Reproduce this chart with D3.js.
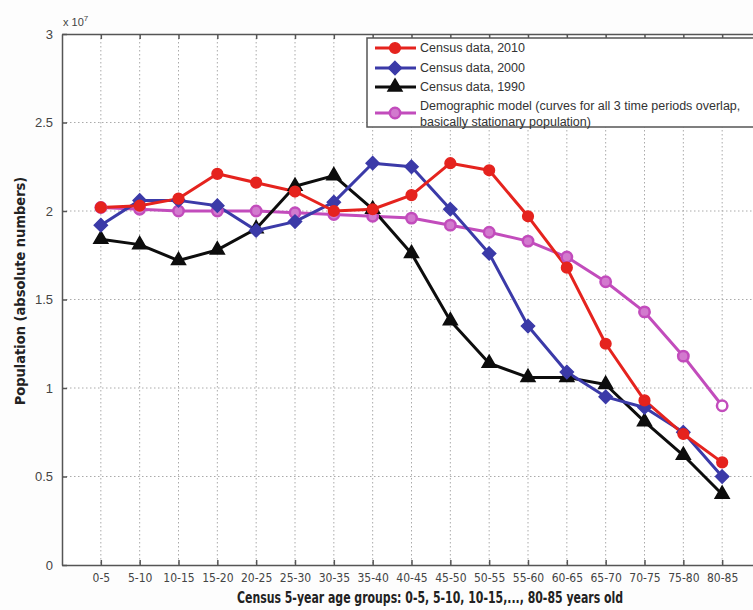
<!DOCTYPE html>
<html>
<head>
<meta charset="utf-8">
<script src="https://cdn.jsdelivr.net/npm/d3@7"></script>
<style>
  html, body { margin: 0; padding: 0; background: #fdfdfd; }
  svg { display: block; }
</style>
</head>
<body>
<svg id="chart" width="753" height="610"></svg>
<script>
const categories = ["0-5","5-10","10-15","15-20","20-25","25-30","30-35","35-40","40-45","45-50","50-55","55-60","60-65","65-70","70-75","75-80","80-85"];
const census2010 = [2.02,2.03,2.07,2.21,2.16,2.11,2.00,2.01,2.09,2.27,2.23,1.97,1.68,1.25,0.93,0.74,0.58].map(v => v * 1e7);
const census2000 = [1.92,2.06,2.06,2.03,1.89,1.94,2.05,2.27,2.25,2.01,1.76,1.35,1.09,0.95,0.89,0.75,0.50].map(v => v * 1e7);
const census1990 = [1.84,1.81,1.72,1.78,1.90,2.14,2.20,2.01,1.76,1.38,1.14,1.06,1.06,1.02,0.81,0.62,0.40].map(v => v * 1e7);
const model = [2.02,2.01,2.00,2.00,2.00,1.99,1.98,1.97,1.96,1.92,1.88,1.83,1.74,1.60,1.43,1.18,0.90].map(v => v * 1e7);
const yTicks = [0, 0.5, 1, 1.5, 2, 2.5, 3];
const yTickLabels = ["0","0.5","1","1.5","2","2.5","3"];
const legendLabels = ["Census data, 2010","Census data, 2000","Census data, 1990",
  ["Demographic model (curves for all 3 time periods overlap,","basically stationary population)"]];

const svg = d3.select("#chart");
const pLeft = 62, pRight = 761, pTop = 34, pBottom = 565;

const x = d3.scaleLinear().domain([-1, 17]).range([pLeft, pRight]);
const y = d3.scaleLinear().domain([0, 3e7]).range([pBottom, pTop]);

const axisColor = "#555";
const gridColor = "#aaa";

// plot background
svg.append("rect").attr("x", pLeft).attr("y", pTop).attr("width", pRight - pLeft).attr("height", pBottom - pTop).attr("fill", "#ffffff");

// grid
const g = svg.append("g");
g.selectAll(".vg").data(categories).enter().append("line")
  .attr("x1", (d, i) => x(i)).attr("x2", (d, i) => x(i))
  .attr("y1", pTop).attr("y2", pBottom)
  .attr("stroke", gridColor).attr("stroke-width", 1).attr("stroke-dasharray", "1.5,2.5");
g.selectAll(".hg").data(yTicks.slice(1, -1)).enter().append("line")
  .attr("x1", pLeft).attr("x2", pRight)
  .attr("y1", d => y(d * 1e7)).attr("y2", d => y(d * 1e7))
  .attr("stroke", gridColor).attr("stroke-width", 1).attr("stroke-dasharray", "1.5,2.5");

// axes
const xAxis = d3.axisBottom(x).tickValues(d3.range(categories.length)).tickFormat(i => categories[i]).tickSizeInner(-5).tickSizeOuter(0).tickPadding(8);
const gx = svg.append("g").attr("transform", `translate(0,${pBottom})`).call(xAxis);
gx.select(".domain").attr("stroke", axisColor).attr("stroke-width", 1.5);
gx.selectAll(".tick line").attr("stroke", axisColor).attr("stroke-width", 1.5);
gx.selectAll(".tick text").attr("fill", "#444").attr("font-size", 12)
  .attr("font-family", "'Liberation Sans Narrow', 'DejaVu Sans Condensed', sans-serif");

const xTopAxis = d3.axisTop(x).tickValues(d3.range(categories.length)).tickFormat("").tickSizeInner(-5).tickSizeOuter(0);
const gxt = svg.append("g").attr("transform", `translate(0,${pTop})`).call(xTopAxis);
gxt.select(".domain").attr("stroke", axisColor).attr("stroke-width", 1.5);
gxt.selectAll(".tick line").attr("stroke", axisColor).attr("stroke-width", 1.5);

const yAxis = d3.axisLeft(y).tickValues(yTicks.map(v => v * 1e7)).tickFormat((d, i) => yTickLabels[i]).tickSizeInner(-5).tickSizeOuter(0).tickPadding(9);
const gy = svg.append("g").attr("transform", `translate(${pLeft},0)`).call(yAxis);
gy.select(".domain").attr("stroke", axisColor).attr("stroke-width", 1.5);
gy.selectAll(".tick line").attr("stroke", axisColor).attr("stroke-width", 1.5);
gy.selectAll(".tick text").attr("fill", "#444").attr("font-size", 13)
  .attr("font-family", "'Liberation Sans', Arial, sans-serif");

// exponent label
const ex = svg.append("text").attr("x", 63).attr("y", 26).attr("fill", "#444")
  .attr("font-size", 11).attr("font-family", "'Liberation Sans Narrow', 'Liberation Sans', sans-serif");
ex.append("tspan").text("x 10");
ex.append("tspan").attr("dy", -5).attr("font-size", 8).text("7");

// axis titles
svg.append("text").attr("x", 237).attr("y", 603)
  .attr("font-size", 16).attr("font-weight", "bold").attr("fill", "#222")
  .attr("textLength", 386).attr("lengthAdjust", "spacingAndGlyphs")
  .attr("font-family", "'DejaVu Sans Condensed', 'Liberation Sans Narrow', sans-serif")
  .text("Census 5-year age groups: 0-5, 5-10, 10-15,..., 80-85 years old");
svg.append("text").attr("transform", "translate(25,291) rotate(-90)").attr("text-anchor", "middle")
  .attr("font-size", 14.5).attr("font-weight", "bold").attr("fill", "#222")
  .attr("font-family", "'DejaVu Sans Condensed', 'Liberation Sans Narrow', sans-serif")
  .text("Population  (absolute numbers)");

// series
const series = [
  { name: legendLabels[0], values: census2010, color: "#e5231e", marker: "circle" },
  { name: legendLabels[1], values: census2000, color: "#3b3aa8", marker: "diamond" },
  { name: legendLabels[2], values: census1990, color: "#0d0d0d", marker: "triangle" },
  { name: legendLabels[3], values: model, color: "#c24cbc", marker: "ring" }
];

const sym = {
  circle: d3.symbol().type(d3.symbolCircle).size(90),
  diamond: d3.symbol().type(d3.symbolDiamond2).size(110),
  triangle: d3.symbol().type(d3.symbolTriangle).size(85),
  ring: d3.symbol().type(d3.symbolCircle).size(85)
};

function drawMarker(sel, s, last) {
  if (s.marker === "ring") {
    sel.attr("d", sym.ring()).attr("fill", last ? "#ffffff" : "#d27ace").attr("stroke", s.color).attr("stroke-width", 2.5);
  } else {
    sel.attr("d", sym[s.marker]()).attr("fill", s.color).attr("stroke", s.color).attr("stroke-width", 1.5);
  }
}

const line = d3.line().x((d, i) => x(i)).y(d => y(d));
const plot = svg.append("g");
const order = [3, 2, 1, 0];
order.forEach(k => {
  const s = series[k];
  plot.append("path").datum(s.values).attr("d", line).attr("fill", "none")
    .attr("stroke", s.color).attr("stroke-width", 3).attr("stroke-linejoin", "round");
});
order.forEach(k => {
  const s = series[k];
  plot.selectAll(null).data(s.values).enter().append("path")
    .attr("transform", (d, i) => `translate(${x(i)},${y(d)})`)
    .each(function (d, i) { drawMarker(d3.select(this), s, i === s.values.length - 1); });
});

// legend
const lg = svg.append("g");
lg.append("rect").attr("x", 367).attr("y", 38).attr("width", 400).attr("height", 89)
  .attr("fill", "#ffffff").attr("stroke", "#555").attr("stroke-width", 1.5);
const ly = [48, 68, 87, 113];
series.forEach((s, k) => {
  lg.append("line").attr("x1", 375).attr("x2", 416).attr("y1", ly[k]).attr("y2", ly[k])
    .attr("stroke", s.color).attr("stroke-width", 3);
  lg.append("path").attr("transform", `translate(395,${ly[k]})`).call(sel => drawMarker(sel, s, false));
  const t = lg.append("text").attr("x", 420).attr("fill", "#333").attr("font-size", 12.5)
    .attr("font-family", "'Liberation Sans', Arial, sans-serif");
  if (Array.isArray(s.name)) {
    t.append("tspan").attr("x", 420).attr("y", ly[k] - 3).text(s.name[0]);
    t.append("tspan").attr("x", 420).attr("y", ly[k] + 13).text(s.name[1]);
  } else {
    t.attr("y", ly[k] + 4).text(s.name);
  }
});
</script>
</body>
</html>
